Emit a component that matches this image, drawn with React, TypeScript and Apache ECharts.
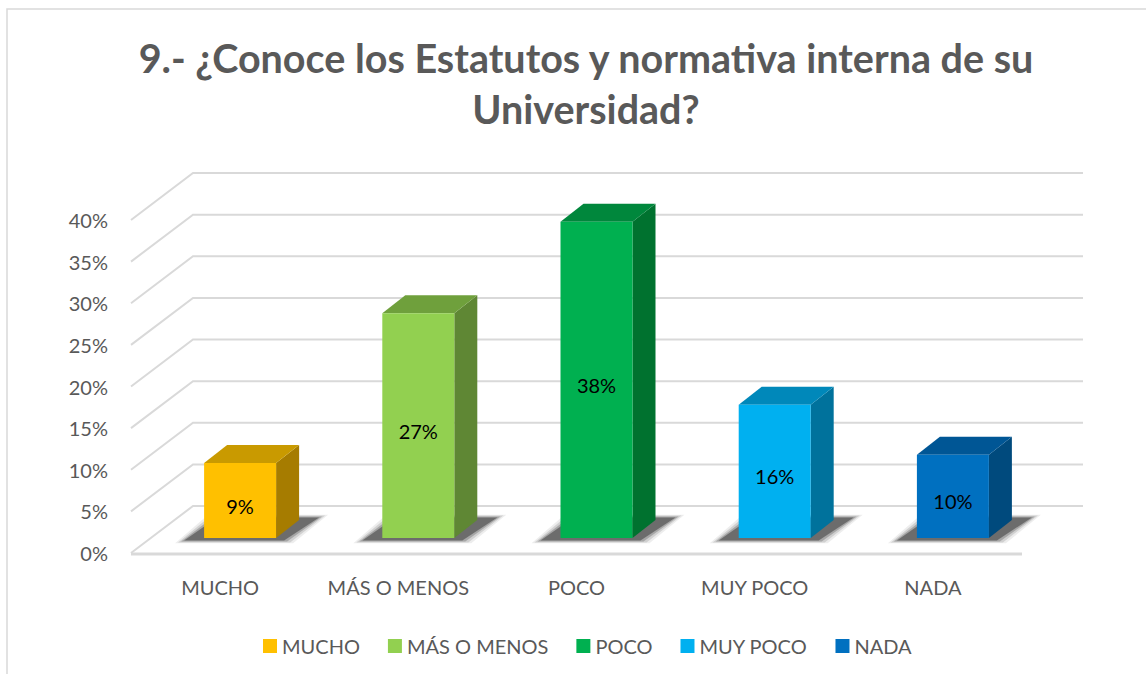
import React, { useEffect, useRef } from 'react';
import * as echarts from 'echarts';

const categories = ['MUCHO', 'MÁS O MENOS', 'POCO', 'MUY POCO', 'NADA'];
const values = [9, 27, 38, 16, 10];
const tickValues = [0, 5, 10, 15, 20, 25, 30, 35, 40];
const frontColors = ['#FFC000', '#92D050', '#00B050', '#00B0F0', '#0070C0'];
const sideColors = ['#A67C00', '#5F8734', '#00722F', '#00729C', '#004A7D'];
const topColors = ['#C99A00', '#6FA03C', '#00873C', '#0088BA', '#005695'];
const titleText = '9.- ¿Conoce los Estatutos y normativa interna de su\nUniversidad?';

const FONT = 'Lato, "Open Sans", sans-serif';
const WALL_DX = 62;
const WALL_DY = 47;
const FACE_DX = 20;
const FACE_DY = 15;
const BAR_DX = 23;
const BAR_DY = 18;
const BAR_FRAC = 0.404;

function gridRender(params: any, api: any) {
  const cs = params.coordSys;
  const v = api.value(1);
  const y = api.coord([0, v])[1];
  const xl = cs.x;
  const xr = cs.x + cs.width;
  const children: any[] = [
    {
      type: 'polyline',
      shape: { points: [[xl, y], [xl + WALL_DX, y - WALL_DY], [xr + WALL_DX - 1, y - WALL_DY]] },
      style: { stroke: '#d9d9d9', lineWidth: 2, fill: null },
    },
  ];
  if (v === 0) {
    children.push({
      type: 'line',
      shape: { x1: xl, y1: y + 1, x2: xr, y2: y + 1 },
      style: { stroke: '#d9d9d9', lineWidth: 3 },
    });
  }
  return { type: 'group', children };
}

function makeBarRender(i: number) {
  return (params: any, api: any) => {
    const ci = api.value(0);
    const v = api.value(1);
    const base = api.coord([ci, 0]);
    const top = api.coord([ci, v]);
    const band = api.size([1, 0])[0];
    const w = band * BAR_FRAC;
    const x0 = base[0] - w / 2 + FACE_DX;
    const x1 = x0 + w;
    const yb = base[1] - FACE_DY;
    const yt = top[1] - FACE_DY;
    const shadows: any[] = [];
    const layers = [
      { g: 11, o: 0.07 },
      { g: 8, o: 0.12 },
      { g: 5, o: 0.2 },
      { g: 2, o: 0.35 },
    ];
    layers.forEach((L) => {
      shadows.push({
        type: 'polygon',
        shape: {
          points: [
            [x0 - 18 - L.g, yb + 2 + L.g * 0.3],
            [x1 + 6 + L.g, yb + 2 + L.g * 0.3],
            [x1 + BAR_DX + 18 + L.g, yb - BAR_DY - 2 - L.g * 0.3],
            [x0 + BAR_DX - 8 - L.g, yb - BAR_DY - 2 - L.g * 0.3],
          ],
        },
        style: { fill: `rgba(0,0,0,${L.o})` },
      });
    });
    return {
      type: 'group',
      children: [
        ...shadows,
        {
          type: 'polygon',
          shape: { points: [[x1, yt], [x1 + BAR_DX, yt - BAR_DY], [x1 + BAR_DX, yb - BAR_DY], [x1, yb]] },
          style: { fill: sideColors[i] },
        },
        {
          type: 'polygon',
          shape: { points: [[x0, yt], [x0 + BAR_DX, yt - BAR_DY], [x1 + BAR_DX, yt - BAR_DY], [x1, yt]] },
          style: { fill: topColors[i] },
        },
        {
          type: 'rect',
          shape: { x: x0, y: yt, width: w, height: yb - yt },
          style: { fill: frontColors[i] },
        },
        {
          type: 'text',
          style: {
            text: `${v}%`,
            x: (x0 + x1) / 2,
            y: (yt + yb) / 2 + 5,
            fill: '#000',
            fontSize: 20,
            fontFamily: FONT,
            align: 'center',
            verticalAlign: 'middle',
          },
        },
      ],
    };
  };
}

export default function App() {
  const ref = useRef<HTMLDivElement>(null);
  useEffect(() => {
    const chart = echarts.init(ref.current!, null, { renderer: 'svg' });
    const barSeries = categories.map((name, i) => ({
      type: 'custom',
      name,
      z: 3,
      itemStyle: { color: frontColors[i] },
      encode: { x: 0, y: 1 },
      data: [[i, values[i]]],
      renderItem: makeBarRender(i),
    }));
    chart.setOption({
      animation: false,
      backgroundColor: '#ffffff',
      title: {
        text: titleText,
        left: 581,
        textAlign: 'center',
        top: 27,
        textStyle: {
          fontSize: 39.5,
          fontWeight: 'bold',
          color: '#595959',
          fontFamily: FONT,
          lineHeight: 51,
        },
      },
      legend: {
        data: categories,
        left: 258,
        top: 631,
        icon: 'rect',
        itemWidth: 14,
        itemHeight: 14,
        itemGap: 28,
        textStyle: { fontSize: 20, color: '#595959', fontFamily: FONT },
      },
      grid: { left: 131, right: 124, top: 220, bottom: 121 },
      xAxis: {
        type: 'category',
        data: categories,
        axisLine: { show: false },
        axisTick: { show: false },
        axisLabel: { interval: 0, margin: 24, fontSize: 20, color: '#595959', fontFamily: FONT },
      },
      yAxis: {
        type: 'value',
        min: 0,
        max: 40,
        interval: 5,
        axisLine: { show: false },
        axisTick: { show: false },
        splitLine: { show: false },
        axisLabel: { formatter: '{value}%', margin: 23, fontSize: 20, color: '#595959', fontFamily: FONT },
      },
      graphic: [
        {
          type: 'rect',
          shape: { x: 7, y: 9, width: 1200, height: 700 },
          style: { fill: null, stroke: '#d9d9d9', lineWidth: 1.5 },
          silent: true,
        },
      ],
      series: [
        {
          type: 'custom',
          name: 'grid',
          z: 1,
          silent: true,
          encode: { x: 0, y: 1 },
          data: tickValues.map((v) => [0, v]),
          renderItem: gridRender,
        },
        ...barSeries,
      ],
    });
    return () => chart.dispose();
  }, []);
  return (
    <div
      ref={ref}
      style={{ position: 'absolute', left: 0, top: 0, width: 1146, height: 674, background: '#fff' }}
    />
  );
}
